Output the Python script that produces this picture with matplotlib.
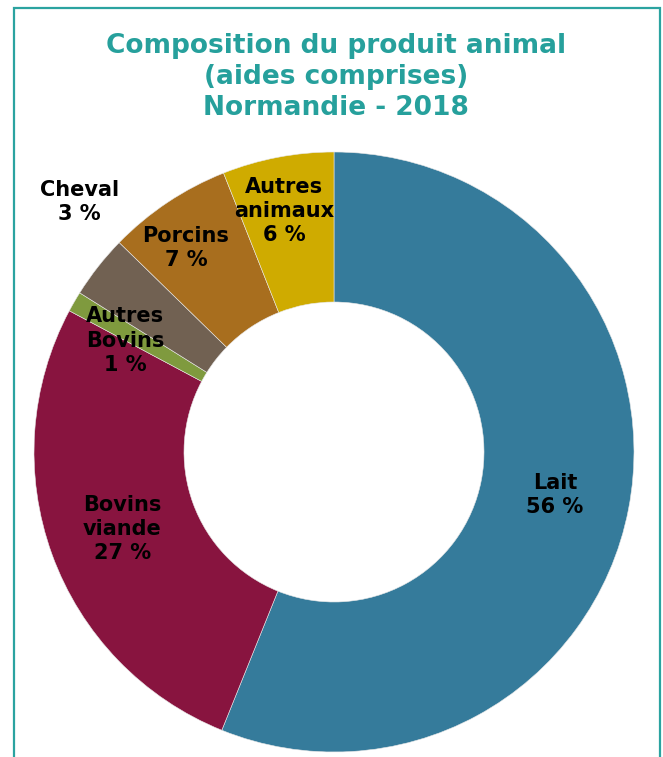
import numpy as np
import matplotlib.pyplot as plt
from matplotlib.patches import Rectangle

# data (clockwise from 12 o'clock)
categories = ["Lait", "Bovins\nviande", "Autres\nBovins", "Cheval", "Porcins", "Autres\nanimaux"]
shares = [56.1, 26.7, 1.1, 3.4, 6.7, 6.0]
colors = ["#357B9B", "#88143F", "#7F9A3E", "#716152", "#A86E1E", "#CFAB00"]

# label placement: radius as fraction of outer radius, angle shift in degrees
lab_r = [0.75, 0.75, 0.79, 1.19, 0.84, 0.82]
lab_shift = [0, 0, 2, -6.3, 2.3, 0.9]

W, H = 663, 757
fig = plt.figure(figsize=(W / 100, H / 100), dpi=100)
ax = fig.add_axes([0, 0, 1, 1])

cx, cy, R = 334, H - 452, 300
wedges, _ = ax.pie(shares, colors=colors, startangle=90, counterclock=False,
                   radius=R, center=(cx, cy), frame=True,
                   wedgeprops=dict(width=R * 0.5, edgecolor="#e8e8e8", linewidth=0.4))
ax.set_xlim(0, W)
ax.set_ylim(0, H)
ax.set_aspect("equal")
ax.axis("off")

for w, cat, val, r, sh in zip(wedges, categories, shares, lab_r, lab_shift):
    mid = np.deg2rad((w.theta1 + w.theta2) / 2 + sh)
    x = cx + r * R * np.cos(mid)
    y = cy + r * R * np.sin(mid)
    ax.text(x, y, f"{cat}\n{round(val)} %", ha="center", va="center",
            fontsize=15, fontweight="bold", color="black", linespacing=1.27)

ax.text(336, H - 77, "Composition du produit animal\n(aides comprises)\nNormandie - 2018",
        ha="center", va="center", fontsize=19, fontweight="bold",
        color="#26A09C", linespacing=1.25)

# outer frame
ax.add_patch(Rectangle((14, -20), 646, H - 8 + 20, fill=False,
                       edgecolor="#2BA3A0", linewidth=1.6, clip_on=False))

fig.savefig("out.png", dpi=100)
